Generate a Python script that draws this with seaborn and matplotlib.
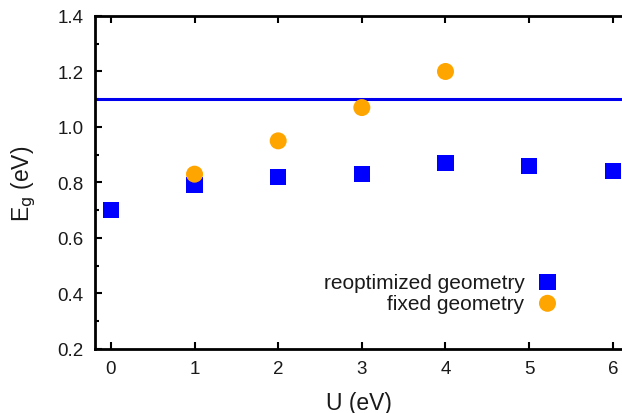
import matplotlib
matplotlib.use("Agg")
import matplotlib.pyplot as plt
import seaborn as sns
import pandas as pd
from matplotlib.ticker import MultipleLocator

sns.set_style("white")
plt.rcParams['font.family'] = ['Liberation Sans', 'DejaVu Sans']

u_reopt = [0, 1, 2, 3, 4, 5, 6]
eg_reopt = [0.70, 0.79, 0.82, 0.83, 0.87, 0.86, 0.84]
u_fixed = [1, 2, 3, 4]
eg_fixed = [0.83, 0.95, 1.07, 1.20]
eg_ref = 1.10

df_r = pd.DataFrame({"U": u_reopt, "Eg": eg_reopt})
df_f = pd.DataFrame({"U": u_fixed, "Eg": eg_fixed})

fig = plt.figure(figsize=(6.22, 4.14), dpi=100)
ax = fig.add_axes([0.1527, 0.1546, 0.8473, 0.8044])

ax.axhline(eg_ref, color="#0000ee", lw=2.2, zorder=1)
sns.scatterplot(data=df_r, x="U", y="Eg", marker="s", s=135, color="#0000ff",
                edgecolor="none", ax=ax, label="reoptimized geometry", zorder=2)
sns.scatterplot(data=df_f, x="U", y="Eg", marker="o", s=150, color="#ffa500",
                edgecolor="none", ax=ax, label="fixed geometry", zorder=3)

ax.set_xlim(-0.19, 6.11)
ax.set_ylim(0.2, 1.4)
ax.xaxis.set_major_locator(MultipleLocator(1))
ax.yaxis.set_major_locator(MultipleLocator(0.2))
ax.yaxis.set_minor_locator(MultipleLocator(0.1))
ax.yaxis.set_major_formatter(plt.FuncFormatter(lambda v, p: f"{v:.1f}"))

for s in ["left", "bottom", "top"]:
    ax.spines[s].set_visible(True)
    ax.spines[s].set_color("black")
    ax.spines[s].set_linewidth(2)
ax.spines["right"].set_visible(False)

ax.tick_params(axis="both", which="both", direction="in", top=True, bottom=True,
               left=True, right=False, color="black", width=1.5, labelsize=13.5,
               labelcolor="#1a1a1a")
ax.tick_params(which="major", length=5, pad=8)
ax.tick_params(which="minor", length=3)
ax.tick_params(axis="x", which="minor", top=False, bottom=False)

ax.set_xlabel("U (eV)", fontsize=16.5, color="#1a1a1a", labelpad=10)
ax.set_ylabel(r"E$_\mathrm{g}$ (eV)", fontsize=16.5, color="#1a1a1a", labelpad=14)

leg = ax.legend(loc="lower right", bbox_to_anchor=(0.91, 0.065), frameon=False,
                markerfirst=False, fontsize=15, handletextpad=0.5,
                borderpad=0.2, labelspacing=0.1, handlelength=1.2)
for t in leg.get_texts():
    t.set_color("#1a1a1a")

fig.savefig("out.png", dpi=100)
